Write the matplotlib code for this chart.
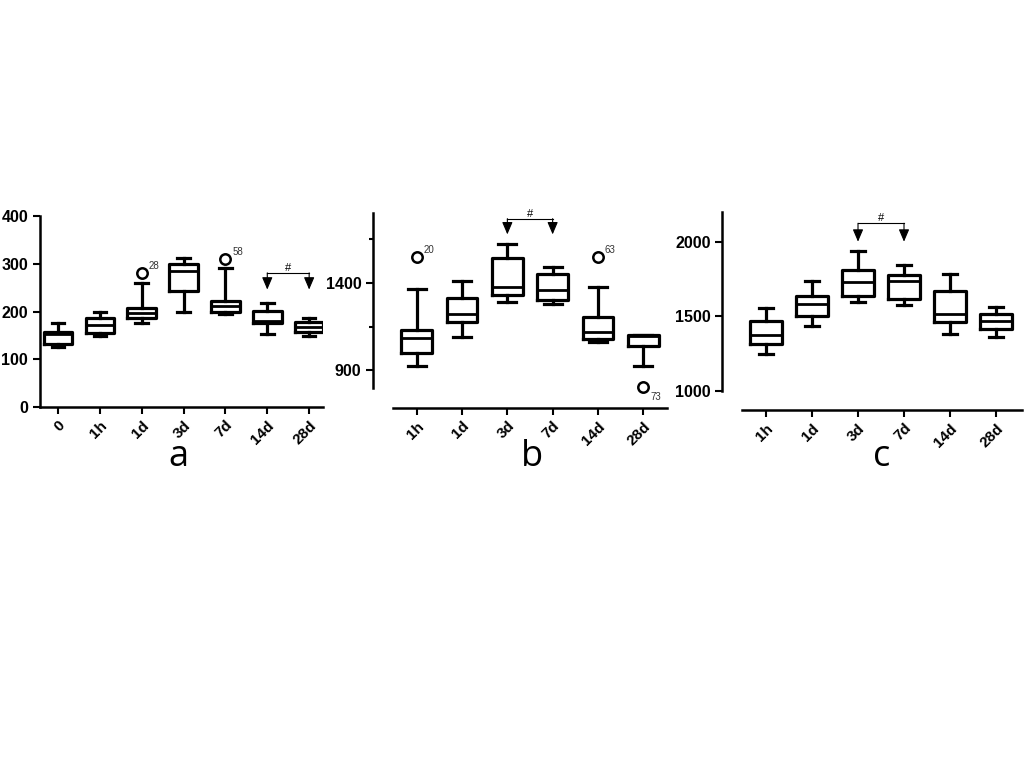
import matplotlib.pyplot as plt

plt.rcParams['font.family'] = ['Liberation Sans', 'DejaVu Sans']

# panel a
cats_a = ['0', '1h', '1d', '3d', '7d', '14d', '28d']
low_a = [126, 148, 176, 198, 195, 152, 148]
q1_a = [133, 156, 187, 242, 198, 176, 158]
med_a = [152, 172, 197, 284, 211, 180, 168]
q3_a = [158, 186, 207, 300, 223, 202, 179]
high_a = [177, 198, 259, 312, 291, 218, 186]
fliers_a = {2: (280, '28'), 4: (309, '58')}

# panel b
cats_b = ['1h', '1d', '3d', '7d', '14d', '28d']
low_b = [926, 1089, 1291, 1280, 1060, 926]
q1_b = [999, 1178, 1333, 1301, 1079, 1037]
med_b = [1085, 1224, 1377, 1358, 1117, 1094]
q3_b = [1133, 1316, 1543, 1450, 1205, 1100]
high_b = [1366, 1410, 1625, 1492, 1379, 1100]
fliers_b = {0: (1549, '20'), 4: (1549, '63'), 5: (804, '73')}

# panel c
cats_c = ['1h', '1d', '3d', '7d', '14d', '28d']
low_c = [1244, 1435, 1594, 1578, 1381, 1363]
q1_c = [1312, 1502, 1637, 1617, 1462, 1413]
med_c = [1374, 1583, 1729, 1740, 1516, 1469]
q3_c = [1471, 1635, 1809, 1780, 1668, 1513]
high_c = [1556, 1740, 1942, 1848, 1785, 1561]


def make_stats(low, q1, med, q3, high, fliers):
    stats = []
    for i in range(len(med)):
        fl = [fliers[i][0]] if i in fliers else []
        stats.append(dict(whislo=low[i], q1=q1[i], med=med[i], q3=q3[i],
                          whishi=high[i], fliers=fl))
    return stats


def draw_panel(ax, cats, low, q1, med, q3, high, fliers, capw):
    lw = 2.3
    ax.bxp(make_stats(low, q1, med, q3, high, fliers), positions=range(len(cats)),
           widths=0.68, capwidths=capw,
           boxprops=dict(color='black', linewidth=lw),
           whiskerprops=dict(color='black', linewidth=lw),
           capprops=dict(color='black', linewidth=lw),
           medianprops=dict(color='black', linewidth=2),
           flierprops=dict(marker='o', markerfacecolor='none', markeredgecolor='black',
                           markersize=7.5, markeredgewidth=1.8))
    for i, (v, lab) in fliers.items():
        off = (5, -9) if lab == '73' else (5, 3)
        ax.annotate(lab, (i, v), xytext=off, textcoords='offset points',
                    fontsize=7, color='#333333')
    ax.set_xticks(range(len(cats)))
    ax.set_xticklabels(cats, rotation=45, ha='right', rotation_mode='anchor',
                       fontweight='bold', fontsize=11)
    ax.tick_params(axis='y', labelsize=11.5, width=1.5, length=5, direction='out')
    ax.tick_params(axis='x', width=1.5, length=5, direction='out', pad=3)
    ax.tick_params(which='minor', width=1.5, length=3)
    for s in ['top', 'right']:
        ax.spines[s].set_visible(False)
    for s in ['left', 'bottom']:
        ax.spines[s].set_linewidth(1.8)


def bold_y(ax):
    for lab in ax.get_yticklabels():
        lab.set_fontweight('bold')


def bracket(ax, x0, x1, top, tip):
    ax.plot([x0, x1], [top, top], color='black', linewidth=0.8)
    for x in (x0, x1):
        ax.annotate('', xy=(x, tip), xytext=(x, top),
                    arrowprops=dict(arrowstyle='-|>,head_length=0.75,head_width=0.32',
                                    color='black', linewidth=0.8, shrinkA=0, shrinkB=0))
    ax.text((x0 + x1) / 2, top, '#', ha='center', va='bottom', fontsize=8)


fig = plt.figure(figsize=(10.24, 7.68), dpi=100)

ax_a = fig.add_axes([0.039, 0.47, 0.2764, 0.2487])
draw_panel(ax_a, cats_a, low_a, q1_a, med_a, q3_a, high_a, fliers_a, 0.3)
ax_a.set_xlim(-0.43, 6.33)
ax_a.set_ylim(0, 400)
ax_a.set_yticks([0, 100, 200, 300, 400])
bold_y(ax_a)
bracket(ax_a, 5, 6, 281, 246)

ax_b = fig.add_axes([0.3646, 0.4688, 0.2865, 0.254])
draw_panel(ax_b, cats_b, low_b, q1_b, med_b, q3_b, high_b, fliers_b, 0.4)
ax_b.set_xlim(-0.96, 5.52)
ax_b.set_ylim(685, 1800)
ax_b.set_yticks([900, 1400])
ax_b.set_yticks([1150, 1650], minor=True)
bold_y(ax_b)
ax_b.spines['left'].set_bounds(800, 1800)
ax_b.spines['bottom'].set_bounds(-0.53, 5.52)
bracket(ax_b, 2, 3, 1767, 1677)

ax_c = fig.add_axes([0.7054, 0.4661, 0.2924, 0.2583])
draw_panel(ax_c, cats_c, low_c, q1_c, med_c, q3_c, high_c, {}, 0.32)
ax_c.set_xlim(-0.95, 5.56)
ax_c.set_ylim(870, 2204)
ax_c.set_yticks([1000, 1500, 2000])
bold_y(ax_c)
ax_c.spines['left'].set_bounds(1000, 2204)
ax_c.spines['bottom'].set_bounds(-0.53, 5.56)
bracket(ax_c, 2, 3, 2126, 2002)

for x, letter in [(0.174, 'a'), (0.5195, 'b'), (0.861, 'c')]:
    fig.text(x, 0.393, letter, ha='center', va='baseline', fontsize=26,
             family=['Open Sans', 'DejaVu Sans'])

fig.savefig('out.png', dpi=100)
